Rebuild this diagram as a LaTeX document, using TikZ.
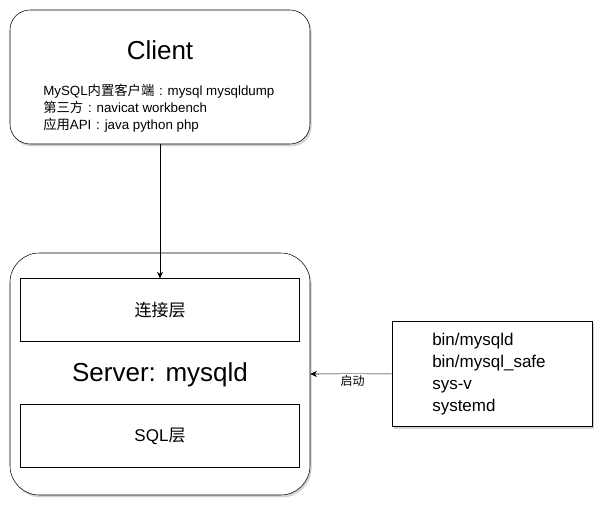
\documentclass[tikz,border=0pt]{standalone}
\usepackage{fontspec}
\setmainfont{Liberation Sans}
\newfontfamily\cjk{Noto Sans CJK SC}
\usetikzlibrary{positioning,arrows.meta,shadows}

\begin{document}
\begin{tikzpicture}[x=0.75pt, y=-0.75pt, auto,
    box/.style={draw, fill=white, drop shadow={shadow xshift=1.2pt, shadow yshift=-1.8pt, opacity=0.35}},
    layer/.style={draw, minimum width=209pt, minimum height=47pt, font=\fontsize{12.75}{15}\selectfont},
    title/.style={font=\fontsize{19.5}{22}\selectfont}]
    \useasboundingbox (0,0) rectangle (611,515);
    \node[box, rounded corners=15pt, minimum width=225pt, minimum height=100.5pt] (client) at (160,77) {};
    \node[title] (clienttitle) at (160,50) {Client};
    \node[anchor=west, align=left, inner sep=0pt, font=\fontsize{10}{12.75}\selectfont] (clientinfo) at (43,108)
      {MySQL{\cjk 内置客户端}\makebox[1em]{:}mysql mysqldump\\{\cjk 第三方}\makebox[1em]{:}navicat workbench\\{\cjk 应用}API\makebox[1em]{:}java python php};
    \node[box, rounded corners=22pt, minimum width=225pt, minimum height=181.5pt] (server) at (160,374) {};
    \node[layer] (conn) at (160,310) {\cjk 连接层};
    \node[title] (servertitle) at (160,375) {Server: mysqld};
    \node[layer] (sql) at (160,436) {SQL{\cjk 层}};
    \node[box, minimum width=150pt, minimum height=79pt] (starter) at (492,373.5) {};
    \node[anchor=west, align=left, inner sep=0pt, font=\fontsize{12.75}{16.3}\selectfont] (starterinfo) at (432,374)
      {bin/mysqld\\bin/mysql\_safe\\sys-v\\systemd};
    \draw[-{Stealth[length=5pt,width=4.5pt]}] (client) -- (conn);
    \draw[-{Stealth[length=5pt,width=4.5pt]}] (starter) -- node[pos=0.48, fill=white, inner sep=1pt, font=\fontsize{9}{10}\selectfont\cjk] (start) {启动} (server.east);
  \end{tikzpicture}
\end{document}
